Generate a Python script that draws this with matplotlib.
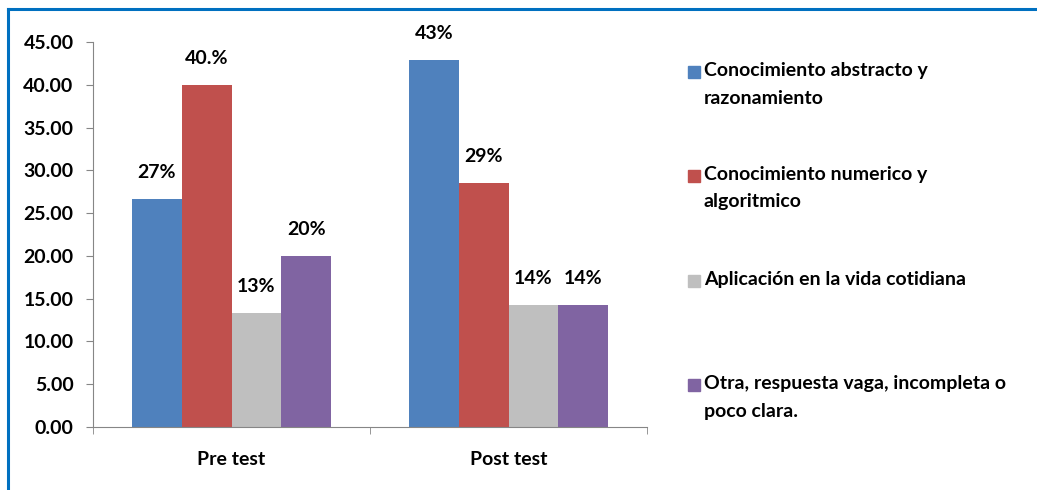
import numpy as np
import matplotlib
matplotlib.use("Agg")
import matplotlib.pyplot as plt
from matplotlib.lines import Line2D
from matplotlib.patches import Rectangle

plt.rcParams['font.family'] = ['Lato', 'DejaVu Sans']
plt.rcParams['font.weight'] = 'bold'

groups = ['Pre test', 'Post test']
series = ['Conocimiento abstracto y\nrazonamiento',
          'Conocimiento numerico y\nalgoritmico',
          'Aplicación en la vida cotidiana',
          'Otra, respuesta vaga, incompleta o\npoco clara.']
pre_vals = [26.67, 40.0, 13.33, 20.0]
post_vals = [42.86, 28.57, 14.29, 14.29]
pre_labels = ['27%', '40.%', '13%', '20%']
post_labels = ['43%', '29%', '14%', '14%']
colors = ['#4f81bd', '#c0504d', '#bfbfbf', '#8064a2']

W, H = 1037, 490
fig = plt.figure(figsize=(W / 100, H / 100), dpi=100)
ax = fig.add_axes([93 / W, 1 - 427 / H, 554 / W, 385 / H])

x = np.arange(len(groups))
width = 0.18
values = np.array([pre_vals, post_vals])
labels = [pre_labels, post_labels]
for i in range(len(series)):
    pos = x + (i - 1.5) * width
    bars = ax.bar(pos, values[:, i], width, color=colors[i], zorder=2)
    for j, b in enumerate(bars):
        ax.annotate(labels[j][i], (b.get_x() + b.get_width() / 2, b.get_height()),
                    xytext=(0, 13), textcoords='offset points',
                    ha='center', va='bottom', fontsize=14, fontweight='bold')

ax.set_xlim(-0.5, 1.5)
ax.set_ylim(0, 45)
ax.set_yticks(np.arange(0, 46, 5))
ax.set_yticklabels([f"{v:.2f}" for v in np.arange(0, 46, 5)], fontsize=14, fontweight='bold')
ax.set_xticks(x)
ax.set_xticklabels(groups, fontsize=14, fontweight='bold')
ax.tick_params(axis='x', which='major', length=0, pad=17)
ax.set_xticks([-0.5, 0.5, 1.5], minor=True)
ax.tick_params(axis='x', which='minor', length=5, color='#868686', direction='out')
ax.tick_params(axis='y', length=5, color='#868686', direction='out', pad=9)
for s in ['top', 'right']:
    ax.spines[s].set_visible(False)
for s in ['left', 'bottom']:
    ax.spines[s].set_color('#868686')

# legend drawn by hand so the patch sits on the first line
leg_y = [72, 176, 281, 385]
for i, lab in enumerate(series):
    yy = 1 - leg_y[i] / H
    fig.patches.append(Rectangle((688 / W, yy - 6 / H), 12 / W, 12 / H,
                                 transform=fig.transFigure, color=colors[i]))
    fig.text(704 / W, yy + 10 / H, lab, ha='left', va='top', fontsize=14,
             fontweight='bold', linespacing=1.75)

# blue frame (top and left edges)
fig.add_artist(Line2D([8 / W, 1], [1 - 9 / H, 1 - 9 / H], transform=fig.transFigure,
                      color='#0070c0', lw=2.2))
fig.add_artist(Line2D([8 / W, 8 / W], [0, 1 - 9 / H], transform=fig.transFigure,
                      color='#0070c0', lw=2.2))

fig.savefig('out.png', dpi=100)
